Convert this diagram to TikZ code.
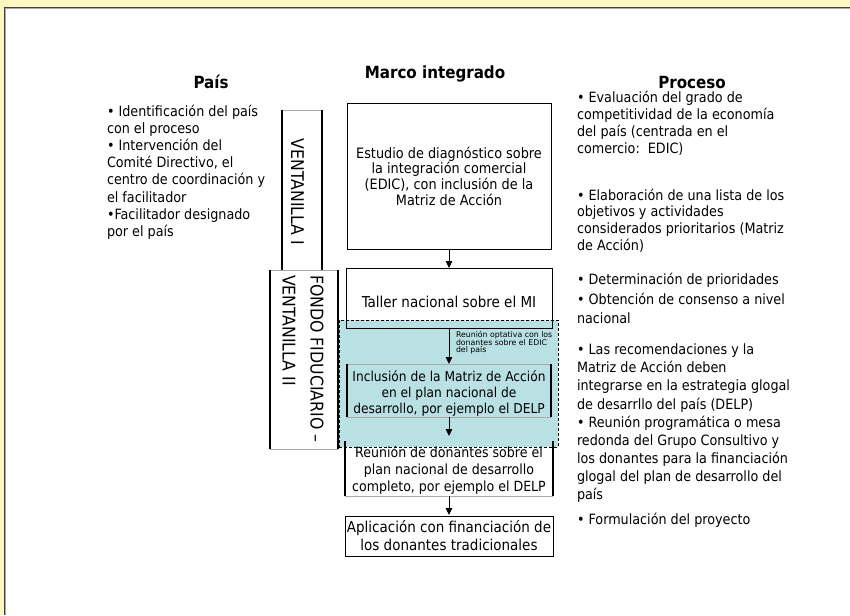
\documentclass[tikz,border=0pt]{standalone}
\usepackage{fontspec}
\setmainfont{DejaVu Sans Condensed}
\newfontfamily\widefont{DejaVu Sans}
\usetikzlibrary{arrows.meta}
\definecolor{bgyellow}{HTML}{FFF6C4}
\definecolor{tealfill}{HTML}{B9E0E2}
\definecolor{framegray}{HTML}{404040}
\definecolor{edgegray}{HTML}{A8A8A8}
\newcommand\bodysize[1]{\fontsize{14.2pt}{#1}\selectfont}
\newcommand\boxsize[2]{\fontsize{#1}{#2}\selectfont}
\newcommand\titlefont{\fontsize{16.8pt}{19pt}\selectfont\bfseries}
\newcommand\vertfont{\fontsize{17.5pt}{20pt}\selectfont}
\newcommand\tinyfont{\widefont\fontsize{7.8pt}{7.2pt}\selectfont}
\begin{document}
\begin{tikzpicture}[x=1pt,y=-1pt,
  every node/.style={inner sep=0pt, outer sep=0pt},
  body/.style={align=left, anchor=base west},
  title/.style={font=\titlefont},
  boxtext/.style={align=center},
  framed/.style={draw=black, line width=0.9pt, fill=white, align=center},
  sideline/.style={draw=black, line width=1.5pt},
  edgeline/.style={draw=edgegray, line width=0.8pt},
  arr/.style={draw=black, line width=0.8pt, -{Triangle[width=6.5pt,length=7pt]}},
  vtext/.style={font=\vertfont, rotate=-90}
]
\useasboundingbox (0,0) rectangle (850,615);
% page background and frame
\fill[bgyellow] (0,0) rectangle (850,615);
\fill[white] (5,8) rectangle (850,615);
\draw[framegray, line width=1.5pt] (4.3,615) -- (4.3,7.3) -- (850,7.3);
\draw[edgegray, line width=0.6pt] (5.5,615) -- (5.5,8.6) -- (850,8.6);

% titles
\node[title] (tpais) at (211,82) {País};
\node[title] (tmarco) at (435,74) {Marco integrado};
\node[title] (tproc) at (692,82) {Proceso};

% left column (anchor = baseline of last line)
\node[body, font=\bodysize{17.2pt}] (pais) at (107,236.5) {• Identificación del país\\con el proceso\\• Intervención del\\Comité Directivo, el\\centro de coordinación y\\el facilitador\\•Facilitador designado\\por el país};

% vertical boxes
\node[fill=white, minimum width=40pt, minimum height=160pt] (v1) at (302,190) {};
\draw[edgeline] (v1.north west) -- (v1.north east);
\draw[sideline] (v1.north west) -- (v1.south west);
\draw[sideline] (v1.north east) -- (v1.south east);
\node[vtext] (v1t) at (297.5,192) {VENTANILLA I};

\node[fill=white, minimum width=68pt, minimum height=179pt] (v2) at (304,359.5) {};
\draw[edgeline] (v2.north west) -- (v2.north east);
\draw[edgeline] (v2.south west) -- (v2.south east);
\draw[sideline] (v2.north west) -- (v2.south west);
\draw[sideline] (v2.north east) -- (v2.south east);
\node[vtext, anchor=base west] (v2a) at (310.5,275) {FONDO FIDUCIARIO –};
\node[vtext, anchor=base west] (v2b) at (282.5,275) {VENTANILLA II};

% central chain
\node[framed, font=\boxsize{14.3pt}{15.7pt}, minimum width=204pt, minimum height=146pt] (b1) at (449,176) {Estudio de diagnóstico sobre\\la integración comercial\\(EDIC), con inclusión de la\\Matriz de Acción};
\node[fill=white, minimum width=206pt, minimum height=60pt] (b2) at (449,298) {};
\node[fill=white, minimum width=208pt, minimum height=55pt] (b4) at (449,468.5) {};

% optional zone
\node[draw=black, dashed, dash pattern=on 3pt off 2pt, line width=0.7pt, fill=tealfill, minimum width=219pt, minimum height=127pt] (zone) at (448.5,383.5) {};

\draw[black, line width=0.9pt] (b2.north west) rectangle (b2.south east);
\node[boxtext, font=\boxsize{15pt}{17pt}] (b2t) at (449,302) {Taller nacional sobre el MI};

\node[minimum width=204pt, minimum height=53pt] (b3) at (449,390.5) {};
\draw[edgeline] (b3.north west) -- (b3.north east);
\draw[edgeline] (b3.south west) -- (b3.south east);
\draw[sideline] (b3.north west) -- (b3.south west);
\draw[sideline] (b3.north east) -- (b3.south east);
\node[boxtext, font=\boxsize{13.6pt}{16pt}] (b3t) at (449,393) {Inclusión de la Matriz de Acción\\en el plan nacional de\\desarrollo, por ejemplo el DELP};

\draw[edgeline] (b4.south west) -- (b4.south east);
\draw[sideline] (b4.north west) -- (b4.south west);
\draw[sideline] (b4.north east) -- (b4.south east);
\node[boxtext, font=\boxsize{14pt}{17pt}] (b4t) at (449,470) {Reunión de donantes sobre el\\plan nacional de desarrollo\\completo, por ejemplo el DELP};

\node[framed, font=\boxsize{15pt}{18pt}, minimum width=208pt, minimum height=40pt] (b5) at (449,536) {Aplicación con financiación de\\los donantes tradicionales};

\node[font=\tinyfont, align=left, anchor=north west] (opt) at (456,331) {Reunión optativa con los\\donantes sobre el EDIC\\del país};

% arrows
\draw[arr] (b1.south) -- (b2.north);
\draw[arr] (b2.south) -- (b3.north);
\draw[arr, shorten >=5pt] (b3.south) -- (b4.north);
\draw[arr, shorten >=1pt] (b4.south) -- (b5.north);

% right column (anchor = baseline of last line)
\node[body, font=\bodysize{16.8pt}] (p1) at (577,153) {• Evaluación del grado de\\competitividad de la economía\\del país (centrada en el\\comercio:\ \ EDIC)};
\node[body, font=\bodysize{16.8pt}] (p2) at (577,250.5) {• Elaboración de una lista de los\\objetivos y actividades\\considerados prioritarios (Matriz\\de Acción)};
\node[body, font=\bodysize{17pt}] (p3) at (577,284.5) {• Determinación de prioridades};
\node[body, font=\bodysize{19pt}] (p4) at (577,323) {• Obtención de consenso a nivel\\nacional};
\node[body, font=\bodysize{18.1pt}] (p5) at (577,499.5) {• Las recomendaciones y la\\Matriz de Acción deben\\integrarse en la estrategia glogal\\de desarrllo del país (DELP)\\• Reunión programática o mesa\\redonda del Grupo Consultivo y\\los donantes para la financiación\\glogal del plan de desarrollo del\\país};
\node[body, font=\bodysize{17pt}] (p6) at (577,524.5) {• Formulación del proyecto};
\end{tikzpicture}
\end{document}
